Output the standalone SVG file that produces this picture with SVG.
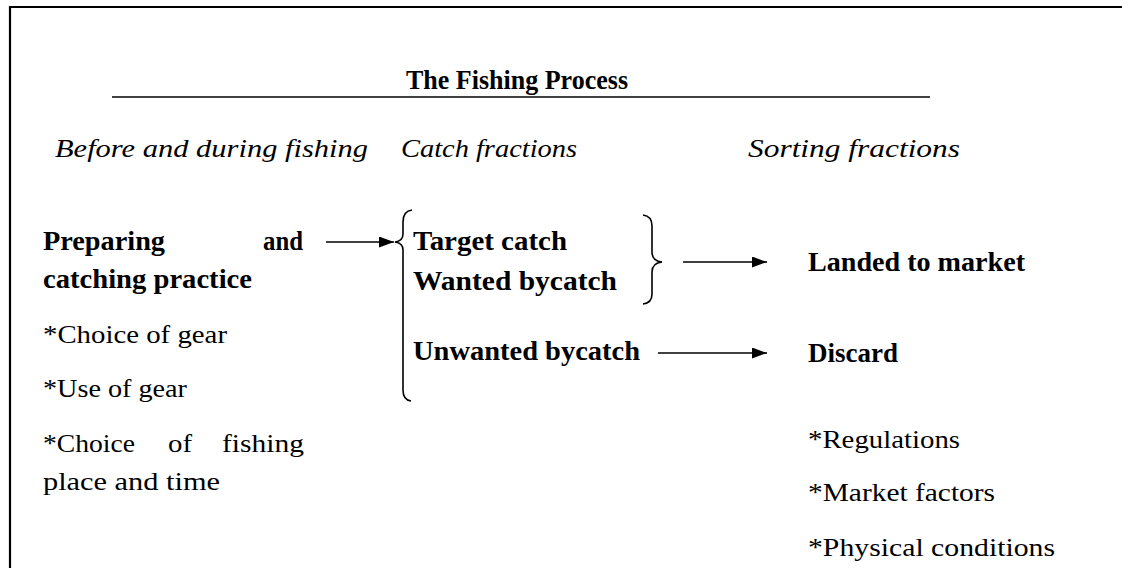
<svg xmlns="http://www.w3.org/2000/svg" width="1122" height="568" viewBox="0 0 1122 568">
<style>
text{font-family:"Liberation Serif","DejaVu Serif",serif;fill:#000}
.title{font-size:27px;font-weight:bold}
.head{font-size:25px;font-style:italic}
.node{font-size:28px;font-weight:bold}
.item{font-size:26px}
.ln{stroke:#000;stroke-width:1.6;fill:none}
</style>
<defs>
<marker id="ah" viewBox="0 0 15 11" refX="15" refY="5.5" markerWidth="15" markerHeight="11" markerUnits="userSpaceOnUse" orient="auto">
<path d="M0,0 L15,5.5 L0,11 z" fill="#000"/>
</marker>
</defs>
<rect width="1122" height="568" fill="#fff"/>
<path d="M10,568 V7 H1122" stroke="#000" stroke-width="2.2" fill="none"/>
<g id="title">
<text class="title" x="517" y="89" text-anchor="middle" textLength="222" lengthAdjust="spacingAndGlyphs">The Fishing Process</text>
<line x1="112" y1="97" x2="930" y2="97" stroke="#000" stroke-width="1.3"/>
</g>
<g id="headings">
<text class="head" x="55" y="157" textLength="313" lengthAdjust="spacingAndGlyphs">Before and during fishing</text>
<text class="head" x="401" y="157" textLength="176" lengthAdjust="spacingAndGlyphs">Catch fractions</text>
<text class="head" x="748" y="157" textLength="212" lengthAdjust="spacingAndGlyphs">Sorting fractions</text>
</g>
<g id="preparing">
<text class="node" x="43" y="250" textLength="122" lengthAdjust="spacingAndGlyphs">Preparing</text>
<text class="node" x="263" y="250" textLength="40" lengthAdjust="spacingAndGlyphs">and</text>
<text class="node" x="43" y="288" textLength="209" lengthAdjust="spacingAndGlyphs">catching practice</text>
<text class="item" x="43" y="343" textLength="184" lengthAdjust="spacingAndGlyphs">*Choice of gear</text>
<text class="item" x="43" y="397" textLength="144" lengthAdjust="spacingAndGlyphs">*Use of gear</text>
<text class="item" x="43" y="452" textLength="92" lengthAdjust="spacingAndGlyphs">*Choice</text>
<text class="item" x="168" y="452" textLength="24" lengthAdjust="spacingAndGlyphs">of</text>
<text class="item" x="222" y="452" textLength="82" lengthAdjust="spacingAndGlyphs">fishing</text>
<text class="item" x="43" y="490" textLength="177" lengthAdjust="spacingAndGlyphs">place and time</text>
</g>
<g id="catch">
<text class="node" x="413" y="250" textLength="154" lengthAdjust="spacingAndGlyphs">Target catch</text>
<text class="node" x="413" y="290" textLength="204" lengthAdjust="spacingAndGlyphs">Wanted bycatch</text>
<text class="node" x="413" y="360" textLength="227" lengthAdjust="spacingAndGlyphs">Unwanted bycatch</text>
</g>
<g id="landed">
<text class="node" x="808" y="271" textLength="217" lengthAdjust="spacingAndGlyphs">Landed to market</text>
</g>
<g id="discard">
<text class="node" x="808" y="362" textLength="90" lengthAdjust="spacingAndGlyphs">Discard</text>
<text class="item" x="808" y="448" textLength="152" lengthAdjust="spacingAndGlyphs">*Regulations</text>
<text class="item" x="808" y="501" textLength="187" lengthAdjust="spacingAndGlyphs">*Market factors</text>
<text class="item" x="808" y="556" textLength="247" lengthAdjust="spacingAndGlyphs">*Physical conditions</text>
</g>
<g id="connectors">
<line class="ln" x1="326" y1="242" x2="394" y2="242" marker-end="url(#ah)"/>
<path class="ln" d="M412,210 Q403,211 403,222 V234 Q403,241 395,242 Q403,243 403,250 V390 Q403,400 411,401"/>
<path class="ln" d="M643,215 Q652,216 652,226 V252 Q652,261 662,262 Q652,263 652,272 V294 Q652,303 643,304"/>
<line class="ln" x1="683" y1="262" x2="767" y2="262" marker-end="url(#ah)"/>
<line class="ln" x1="658" y1="353" x2="767" y2="353" marker-end="url(#ah)"/>
</g>
</svg>
